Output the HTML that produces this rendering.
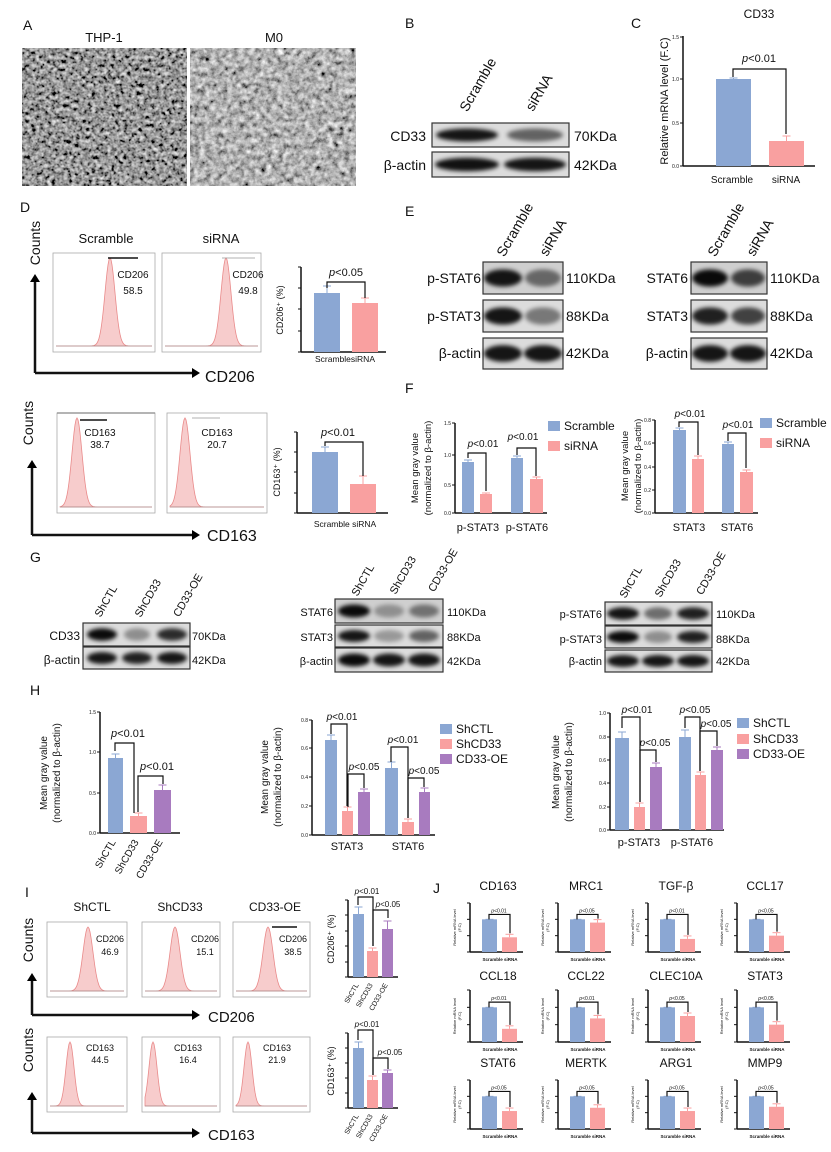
<!DOCTYPE html>
<html><head><meta charset="utf-8">
<style>
html,body{margin:0;padding:0;background:#fff;}
svg{display:block;font-family:"Liberation Sans",Arial,sans-serif;}
</style></head>
<body>
<svg id="fig" width="831" height="1152" viewBox="0 0 831 1152" xmlns="http://www.w3.org/2000/svg"></svg>
<script>
const B='#8ba7d3',P='#f9a0a0',U='#a87bbf';
let s=`<defs>
<filter id="bl" x="-30%" y="-60%" width="160%" height="220%"><feGaussianBlur stdDeviation="2.2"/></filter>
<filter id="c1" x="0" y="0" width="100%" height="100%"><feTurbulence type="fractalNoise" baseFrequency="0.25" numOctaves="3" seed="4"/><feColorMatrix type="matrix" values="0.33 0.33 0.33 0 0 0.33 0.33 0.33 0 0 0.33 0.33 0.33 0 0 0 0 0 0 1"/><feComponentTransfer><feFuncR type="linear" slope="2.2" intercept="-0.78"/><feFuncG type="linear" slope="2.2" intercept="-0.78"/><feFuncB type="linear" slope="2.2" intercept="-0.78"/></feComponentTransfer></filter>
<filter id="c2" x="0" y="0" width="100%" height="100%"><feTurbulence type="fractalNoise" baseFrequency="0.18" numOctaves="3" seed="9"/><feColorMatrix type="matrix" values="0.33 0.33 0.33 0 0 0.33 0.33 0.33 0 0 0.33 0.33 0.33 0 0 0 0 0 0 1"/><feComponentTransfer><feFuncR type="linear" slope="2.0" intercept="-0.55"/><feFuncG type="linear" slope="2.0" intercept="-0.55"/><feFuncB type="linear" slope="2.0" intercept="-0.55"/></feComponentTransfer></filter>
</defs>`;
function t(x,y,str,sz,o={}){s+=`<text x="${x}" y="${y}" font-size="${sz}" text-anchor="${o.a||'start'}"${o.r!==undefined?` transform="rotate(${o.r} ${x} ${y})"`:''} font-weight="${o.w||'normal'}" fill="${o.c||'#111'}">${str}</text>`;}
function pv(x,y,str,sz){s+=`<text x="${x}" y="${y}" font-size="${sz}" text-anchor="middle" fill="#111"><tspan font-style="italic">p</tspan>${str}</text>`;}
function L(x1,y1,x2,y2,w=1.5,c='#111'){s+=`<line x1="${x1}" y1="${y1}" x2="${x2}" y2="${y2}" stroke="${c}" stroke-width="${w}"/>`;}
function R(x,y,w,h,f,st=''){s+=`<rect x="${x}" y="${y}" width="${w}" height="${h}" fill="${f}" ${st}/>`;}
function bar(x1,x2,top,base,c,err=3){R(x1,top,x2-x1,base-top,c);let m=(x1+x2)/2;L(m,top,m,top-err,1,c);L(m-4,top-err,m+4,top-err,1,c);}
function brk(x1,x2,y,y1,y2,w=1.2){s+=`<path d="M${x1} ${y1}V${y}H${x2}V${y2}" fill="none" stroke="#111" stroke-width="${w}"/>`;}
function axis(x,top,bot,xe,ticks,sz=5,w=1.5){L(x,top,x,bot,w);L(x,bot,xe,bot,w);ticks.forEach(([y,l])=>{L(x-3,y,x,y,1);t(x-4,y+2,l,sz,{a:'end'});});}
function blot(x,y,w,h,bands,bg='#dcdcdc'){R(x,y,w,h,bg,'stroke="#333" stroke-width="1.2"');bands.forEach(([cx,a,bw])=>{s+=`<ellipse cx="${cx}" cy="${y+h/2}" rx="${bw/2}" ry="${h*0.27}" fill="#000" opacity="${a}" filter="url(#bl)"/>`;});}
function hist(x,y,w,h,px,sig=7){R(x,y,w,h,'#fff','stroke="#aaa" stroke-width="0.8"');let b=y+h-6,tp=y+5,d=`M${x+3} ${b}`;for(let i=x+3;i<=x+w-3;i+=1){let v=Math.exp(-((i-px)**2)/(2*sig*sig));d+=`L${i} ${(b-v*(b-tp)).toFixed(1)}`;}d+='Z';s+=`<path d="${d}" fill="#f7cccc" stroke="#e98a8a" stroke-width="0.8"/>`;L(x+3,b,x+w-3,b,0.6,'#888');}
function arrows(x,y1,y2,x2){L(x,y1+6,x,y2,2.5);L(x,y2,x2-6,y2,2.5);s+=`<path d="M${x-5} ${y1+8}L${x} ${y1}L${x+5} ${y1+8}Z"/><path d="M${x2-8} ${y2-5}L${x2} ${y2}L${x2-8} ${y2+5}Z"/>`;}
function ylab2(x,yc,sz=10){t(x,yc,'Mean gray value',sz,{a:'middle',r:-90});t(x+13,yc,'(normalized to β-actin)',sz,{a:'middle',r:-90});}
function legend(x,ys,names,cols,sz=12){ys.forEach((y,i)=>{R(x,y-5,12,10,cols[i]);t(x+16,y+4,names[i],sz);});}

/* A */
t(23,30,'A',14);t(104,42,'THP-1',13,{a:'middle'});t(274,42,'M0',13,{a:'middle'});
R(22,48,165,138,'#444');s+=`<rect x="22" y="48" width="165" height="138" filter="url(#c1)"/>`;
R(190,48,166,138,'#666');s+=`<rect x="190" y="48" width="166" height="138" filter="url(#c2)"/>`;
/* B */
t(405,28,'B',14);t(482,87,'Scramble',14,{a:'middle',r:-60});t(543,95,'siRNA',14,{a:'middle',r:-60});
blot(432,123,137,24,[[467,0.9,62],[535,0.55,56]]);blot(432,152,137,25,[[467,0.92,64],[535,0.9,62]]);
t(426,141,'CD33',14,{a:'end'});t(426,170,'β-actin',14,{a:'end'});t(574,141,'70KDa',14);t(574,170,'42KDa',14);
/* C */
t(631,28,'C',14);t(759,18,'CD33',12,{a:'middle'});
axis(683,36,166,815,[[37,'1.5'],[79,'1.0'],[123,'0.5'],[166,'0.0']]);
bar(716,751,79,166,B,1);bar(769,804,141,166,P,5);brk(733,786,69,77,134);pv(759,62,'&lt;0.01',11);
t(732,183,'Scramble',10,{a:'middle'});t(786,183,'siRNA',10,{a:'middle'});
t(668,101,'Relative mRNA level (F.C)',11,{a:'middle',r:-90});
/* D */
t(20,212,'D',14);t(40,243,'Counts',14,{a:'middle',r:-90});
t(106,243,'Scramble',13,{a:'middle'});t(221,243,'siRNA',13,{a:'middle'});
hist(53,253,102,99,110,5);hist(162,253,99,99,226,5);
L(108,258,138,258,1.5);L(222,258,255,258,0.8,'#999');
t(133,278,'CD206',10,{a:'middle'});t(133,294,'58.5',10,{a:'middle'});t(248,278,'CD206',10,{a:'middle'});t(248,294,'49.8',10,{a:'middle'});
arrows(35,274,373,200);t(205,382,'CD206',16);
axis(301,267,352,386,[[267,''],[288,''],[309,''],[331,''],[352,'']]);
bar(314,340,293,352,B,7);bar(352,378,303,352,P,5);brk(327,365,282,288,298);pv(346,276,'&lt;0.05',11);
t(345,362,'ScramblesiRNA',8.5,{a:'middle'});t(283,310,'CD206⁺ (%)',9,{a:'middle',r:-90});
/* D row2 */
t(33,423,'Counts',14,{a:'middle',r:-90});
hist(57,413,98,100,77,5);hist(167,413,100,100,185,5);
L(57,413,155,413,1.2,'#888');L(80,420,107,420,1.5);L(192,418,220,418,0.8,'#999');
t(100,436,'CD163',10,{a:'middle'});t(100,448,'38.7',10,{a:'middle'});t(217,436,'CD163',10,{a:'middle'});t(217,448,'20.7',10,{a:'middle'});
arrows(32,460,535,200);t(207,541,'CD163',16);
axis(297,432,513,388,[[432,''],[452,''],[472,''],[493,''],[513,'']]);
bar(312,338,452,513,B,5);bar(350,376,484,513,P,8);brk(325,363,442,446,476);pv(338,436,'&lt;0.01',11);
t(345,527,'Scramble siRNA',8.5,{a:'middle'});t(280,472,'CD163⁺ (%)',9,{a:'middle',r:-90});
/* E */
t(405,216,'E',14);
[[519,232,'Scramble'],[557,240,'siRNA'],[730,232,'Scramble'],[764,240,'siRNA']].forEach(a=>t(a[0],a[1],a[2],14,{a:'middle',r:-60}));
blot(483,262,80,32,[[503,0.9,38],[543,0.5,36]],'#cfcfcf');blot(483,300,80,32,[[503,0.9,38],[543,0.45,36]]);blot(483,338,80,31,[[503,0.9,38],[543,0.9,38]]);
blot(691,262,76,32,[[710,0.95,36],[748,0.7,34]],'#cfcfcf');blot(691,300,76,32,[[710,0.85,36],[748,0.7,34]]);blot(691,338,76,31,[[710,0.9,36],[748,0.9,36]]);
[['p-STAT6',283,'110KDa'],['p-STAT3',321,'88KDa'],['β-actin',358,'42KDa']].forEach(a=>{t(481,a[1],a[0],14,{a:'end'});t(566,a[1],a[2],14);});
[['STAT6',283,'110KDa'],['STAT3',321,'88KDa'],['β-actin',358,'42KDa']].forEach(a=>{t(688,a[1],a[0],14,{a:'end'});t(770,a[1],a[2],14);});
/* F */
t(405,393,'F',14);
axis(455,423,513,547,[[423,'1.5'],[455,'1.0'],[485,'0.5'],[513,'0.0']]);
bar(462,474,462,513,B,2);bar(480,492,494,513,P,1);bar(511,523,458,513,B,2);bar(530,543,479,513,P,2);
brk(468,486,453,458,491);brk(517,536,448,455,476);pv(483,447,'&lt;0.01',10);pv(523,440,'&lt;0.01',10);
t(478,531,'p-STAT3',11,{a:'middle'});t(527,531,'p-STAT6',11,{a:'middle'});
legend(548,[426,446],['Scramble','siRNA'],[B,P],12);ylab2(418,468,9.5);
axis(655,420,513,758,[[420,'0.8'],[443,'0.6'],[467,'0.4'],[490,'0.2'],[513,'0.0']]);
bar(673,686,430,513,B,2);bar(692,704,459,513,P,3);bar(722,734,444,513,B,2);bar(740,753,472,513,P,2);
brk(679,698,422,427,455);brk(728,746,433,441,468);pv(690,417,'&lt;0.01',10);pv(738,428,'&lt;0.01',10);
t(689,531,'STAT3',11,{a:'middle'});t(737,531,'STAT6',11,{a:'middle'});
legend(760,[423,443],['Scramble','siRNA'],[B,P],12);ylab2(628,466,9.5);
/* G */
t(30,562,'G',14);
[[109,603,'ShCTL'],[151,600,'ShCD33'],[191,597,'CD33-OE'],[366,582,'ShCTL'],[406,577,'ShCD33'],[446,572,'CD33-OE'],[634,584,'ShCTL'],[671,580,'ShCD33'],[714,575,'CD33-OE']].forEach(a=>t(a[0],a[1],a[2],11,{a:'middle',r:-60}));
blot(83,623,107,23,[[102,0.95,30],[137,0.35,26],[172,0.8,30]]);blot(83,647,107,22,[[102,0.9,30],[137,0.85,30],[172,0.9,30]]);
t(80,640,'CD33',12,{a:'end'});t(80,664,'β-actin',12,{a:'end'});t(192,640,'70KDa',11);t(192,664,'42KDa',11);
blot(335,599,108,24,[[354,0.95,32],[389,0.3,30],[424,0.45,30]],'#cfcfcf');blot(335,625,108,22,[[354,0.9,32],[389,0.3,30],[424,0.55,30]]);blot(335,648,108,24,[[354,0.95,32],[389,0.9,32],[424,0.9,32]]);
t(333,616,'STAT6',11,{a:'end'});t(333,641,'STAT3',11,{a:'end'});t(333,665,'β-actin',11,{a:'end'});t(447,616,'110KDa',11);t(447,641,'88KDa',11);t(447,665,'42KDa',11);
blot(605,602,107,23,[[623,0.9,32],[658,0.5,28],[693,0.85,32]]);blot(605,626,107,22,[[623,0.95,32],[658,0.35,28],[693,0.85,32]]);blot(605,650,107,22,[[623,0.9,32],[658,0.9,32],[693,0.9,32]]);
t(602,618,'p-STAT6',11,{a:'end'});t(602,643,'p-STAT3',11,{a:'end'});t(602,665,'β-actin',11,{a:'end'});t(716,618,'110KDa',11);t(716,643,'88KDa',11);t(716,665,'42KDa',11);
/* H */
t(30,695,'H',14);
axis(100,712,833,180,[[712,'1.5'],[752,'1.0'],[793,'0.5'],[833,'0.0']]);
bar(108,123,758,833,B,4);bar(130,147,816,833,P,3);bar(154,171,790,833,U,5);
brk(115,134,743,751,813);brk(138,163,776,812,784);pv(128,737,'&lt;0.01',11);pv(157,770,'&lt;0.01',11);
[[116,'ShCTL'],[139,'ShCD33'],[163,'CD33-OE']].forEach(a=>t(a[0],842,a[1],10,{a:'end',r:-60}));
ylab2(47,773,10);
axis(312,720,835,435,[[720,'0.8'],[748,'0.6'],[777,'0.4'],[806,'0.2'],[835,'0.0']]);
bar(325,337,740,835,B,5);bar(342,353,811,835,P,4);bar(358,370,792,835,U,3);
bar(385,398,768,835,B,6);bar(402,414,822,835,P,3);bar(419,430,792,835,U,4);
brk(331,347,724,734,806);brk(348,364,774,807,788);brk(391,408,747,762,818);brk(408,424,778,818,787);
pv(342,720,'&lt;0.01',10);pv(364,770,'&lt;0.05',10);pv(403,743,'&lt;0.01',10);pv(424,774,'&lt;0.05',10);
t(347,850,'STAT3',11,{a:'middle'});t(408,850,'STAT6',11,{a:'middle'});
legend(440,[729,744,759],['ShCTL','ShCD33','CD33-OE'],[B,P,U],12);ylab2(268,777,10);
axis(610,713,830,724,[[713,'1.0'],[737,'0.8'],[760,'0.6'],[783,'0.4'],[807,'0.2'],[830,'0.0']]);
bar(615,629,738,830,B,6);bar(634,645,807,830,P,4);bar(650,662,767,830,U,4);
bar(679,691,737,830,B,7);bar(695,706,775,830,P,3);bar(711,723,750,830,U,3);
brk(622,640,717,728,802);brk(640,656,750,802,762);brk(685,700,717,728,771);brk(700,717,731,771,746);
pv(637,713,'&lt;0.01',10);pv(655,746,'&lt;0.05',10);pv(695,713,'&lt;0.05',10);pv(716,727,'&lt;0.05',10);
t(639,846,'p-STAT3',11,{a:'middle'});t(692,846,'p-STAT6',11,{a:'middle'});
legend(737,[723,739,754],['ShCTL','ShCD33','CD33-OE'],[B,P,U],12);ylab2(559,772,10);
/* I */
t(25,897,'I',14);
t(92,911,'ShCTL',12,{a:'middle'});t(180,911,'ShCD33',12,{a:'middle'});t(275,911,'CD33-OE',12,{a:'middle'});
t(33,940,'Counts',14,{a:'middle',r:-90});t(33,1050,'Counts',14,{a:'middle',r:-90});
hist(47,922,80,75,88,5);hist(142,922,78,75,175,5);hist(233,922,77,75,268,5);L(272,927,297,927,1.5);
t(110,942,'CD206',9,{a:'middle'});t(110,955,'46.9',9,{a:'middle'});t(205,942,'CD206',9,{a:'middle'});t(205,955,'15.1',9,{a:'middle'});t(293,942,'CD206',9,{a:'middle'});t(293,955,'38.5',9,{a:'middle'});
hist(47,1037,80,75,70,4);hist(142,1037,78,75,153,4);hist(233,1037,77,75,248,4);
t(100,1051,'CD163',9,{a:'middle'});t(100,1063,'44.5',9,{a:'middle'});t(188,1051,'CD163',9,{a:'middle'});t(188,1063,'16.4',9,{a:'middle'});t(277,1051,'CD163',9,{a:'middle'});t(277,1063,'21.9',9,{a:'middle'});
arrows(32,973,1015,200);t(208,1022,'CD206',15);arrows(32,1092,1133,200);t(208,1140,'CD163',15);
axis(348,900,977,398,[[900,''],[915,''],[931,''],[946,''],[962,''],[977,'']]);
bar(353,364,914,977,B,7);bar(367,378,951,977,P,3);bar(382,393,929,977,U,8);
brk(358,373,897,905,946);brk(373,388,910,946,918);pv(367,894,'&lt;0.01',8);pv(388,907,'&lt;0.05',8);
[[359,'ShCTL'],[373,'ShCD33'],[388,'CD33-OE']].forEach(a=>t(a[0],985,a[1],7,{a:'end',r:-60}));
t(334,939,'CD206⁺ (%)',9,{a:'middle',r:-90});
axis(348,1033,1108,398,[[1033,''],[1048,''],[1063,''],[1078,''],[1093,''],[1108,'']]);
bar(353,364,1048,1108,B,6);bar(367,378,1080,1108,P,4);bar(382,393,1073,1108,U,3);
brk(358,373,1030,1040,1075);brk(373,388,1058,1075,1069);pv(367,1027,'&lt;0.01',8);pv(390,1055,'&lt;0.05',8);
[[359,'ShCTL'],[373,'ShCD33'],[388,'CD33-OE']].forEach(a=>t(a[0],1116,a[1],7,{a:'end',r:-60}));
t(334,1071,'CD163⁺ (%)',9,{a:'middle',r:-90});
/* J */
t(433,893,'J',14);
const cols=[470,558,648,737],rows=[[890,903,952],[980,990,1042],[1067,1080,1129]];
const names=[['CD163','MRC1','TGF-β','CCL17'],['CCL18','CCL22','CLEC10A','STAT3'],['STAT6','MERTK','ARG1','MMP9']];
const si=[[0.45,0.9,0.4,0.5],[0.38,0.68,0.75,0.5],[0.55,0.65,0.55,0.68]];
const pvs=[['&lt;0.01','&lt;0.05','&lt;0.01','&lt;0.05'],['&lt;0.01','&lt;0.01','&lt;0.05','&lt;0.05'],['&lt;0.05','&lt;0.05','&lt;0.05','&lt;0.05']];
rows.forEach((r,ri)=>cols.forEach((c,ci)=>{const[ty,top,bot]=r,h=bot-top,u=h/1.5;
t(c+28,ty,names[ri][ci],12,{a:'middle'});
axis(c,top,bot,c+53,[[top,''],[bot-u,''],[bot-u/2,''],[bot,'']],3,1.5);
bar(c+12,c+27,bot-u,bot,B,0);bar(c+32,c+47,bot-u*si[ri][ci],bot,P,3);
brk(c+19,c+40,bot-u*1.15,bot-u,bot-u*si[ri][ci]-4,1.2);
pv(c+29,bot-u*1.15-2,pvs[ri][ci],5);
t(c+30,bot+9,'Scramble siRNA',4.5,{a:'middle',w:'bold'});
t(c-14,top+h/2,'Relative mRNA level',4,{a:'middle',r:-90});t(c-9,top+h/2,'(F.C)',4,{a:'middle',r:-90});
}));
document.getElementById('fig').innerHTML=s;
</script>
</body></html>
